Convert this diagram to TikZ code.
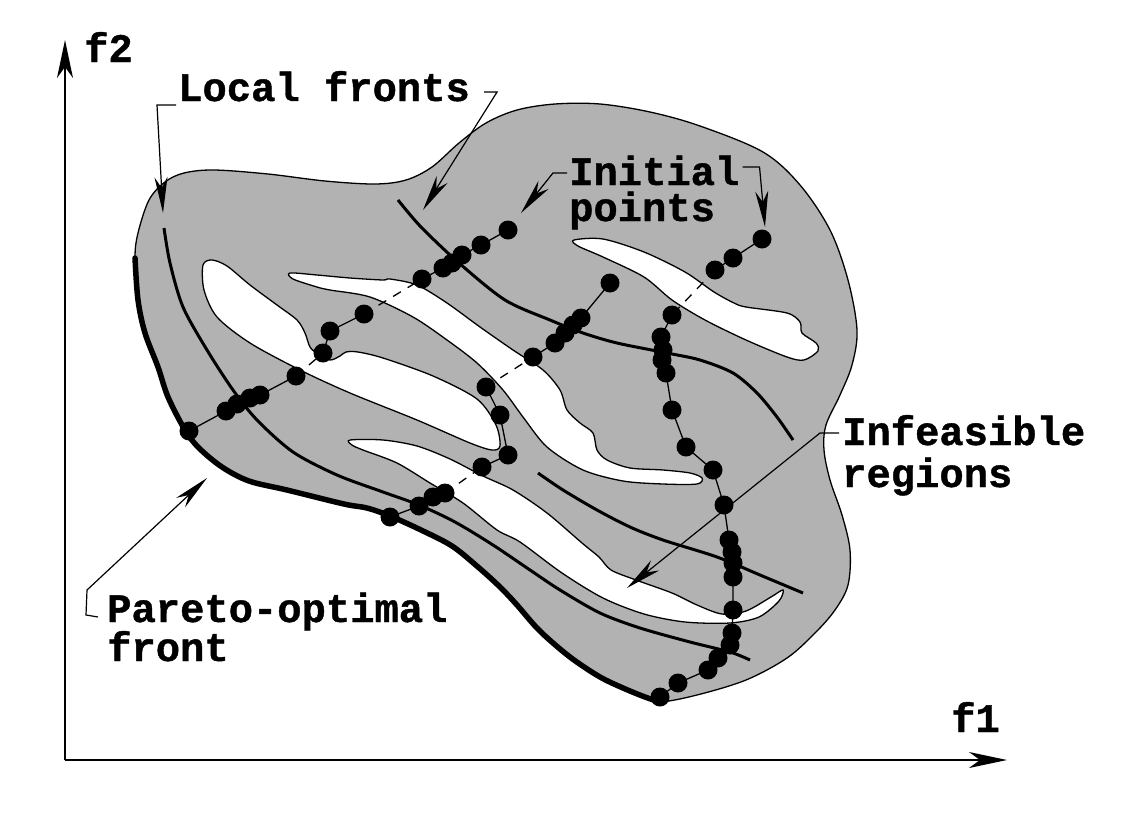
\documentclass[tikz,border=0pt]{standalone}
\usepackage{fontspec}
\setmonofont{Liberation Mono}[BoldFeatures={FakeBold=1}]
\usepackage{tikz}
\usetikzlibrary{arrows.meta}

\begin{document}
\begin{tikzpicture}[x=1pt,y=-1pt,
  lbl/.style={font=\ttfamily\bfseries\fontsize{40.5}{40}\selectfont,inner sep=0pt,anchor=base west},
  lead/.style={line width=1.2pt,-{Stealth[length=36pt,width=13pt,inset=11pt]}},
  axis/.style={line width=1.5pt,-{Stealth[length=38pt,width=16pt,inset=11pt]}},
  front/.style={line width=3pt},
  hole/.style={fill=white,draw=black,line width=1.3pt},
  link/.style={line width=1.3pt},
  gap/.style={line width=1.3pt,dash pattern=on 9pt off 8pt},
  ball/.style={fill=black}]
\useasboundingbox (0,0) rectangle (1144,820);

% feasible region
\filldraw[fill=black!30,line width=1.3pt] plot[smooth cycle,tension=0.55] coordinates {
  (660,702) (645,697) (623,688) (600,677) (574,660) (553,643) (536,627) (517,605)
  (500,587) (478,567) (452,546) (421,530) (390,516) (367,508) (344,504) (287,490)
  (249,481) (222,467) (199,448) (185,430) (168,397) (158,367) (145,333) (138,300)
  (135,258) (138,233) (149,200) (165,182) (184,173) (214,170) (268,174) (325,181)
  (375,184) (406,180) (432,167) (459,143) (486,123) (517,110) (555,104) (600,104)
  (650,112) (700,126) (763,152) (800,185) (830,230) (848,280) (857,330) (852,365)
  (840,395) (826,425) (824,450) (830,480) (842,515) (850,550) (848,585) (835,610)
  (815,633) (787,658) (746,680) (697,695)};

% infeasible holes
\path[hole] plot[smooth cycle,tension=0.5] coordinates {
  (203,265) (212,260) (227,266) (250,285) (277,305) (297,320) (305,333) (310,347)
  (318,354) (330,360) (340,356) (346,352) (358,352) (383,358) (433,376) (477,399)
  (496,425) (500,446) (492,450) (470,443) (417,420) (350,393) (300,370) (250,343)
  (217,317) (204,290)};
\path[hole] plot[smooth cycle,tension=0.5] coordinates {
  (290,273) (317,275) (350,278) (383,280) (390,279) (417,285) (447,303) (480,327)
  (513,350) (543,370) (560,390) (567,410) (580,423) (593,433) (597,450) (607,460)
  (630,468) (663,470) (690,473) (702,478) (697,484) (663,484) (623,481) (583,470)
  (547,447) (523,417) (503,390) (477,363) (447,340) (413,317) (370,297) (330,290)
  (317,287) (293,279)};
\path[hole] plot[smooth cycle,tension=0.5] coordinates {
  (574,240) (603,239) (644,252) (685,272) (714,292) (734,303) (746,307) (787,313)
  (800,322) (802,333) (816,343) (818,351) (804,360) (787,357) (746,340) (705,320)
  (672,300) (644,277) (603,257) (578,246)};
\path[hole] plot[smooth cycle,tension=0.5] coordinates {
  (350,440) (383,440) (417,446) (450,459) (483,476) (513,490) (547,513) (582,543)
  (599,557) (611,570) (636,580) (672,593) (697,605) (722,614) (746,611) (771,597)
  (783,590) (779,601) (759,617) (730,623) (685,622) (644,614) (603,598) (562,573)
  (520,542) (497,530) (463,503) (430,483) (397,463) (363,450) (352,445)};

% pareto-optimal front and local fronts
\draw[line width=5.5pt,line cap=round] plot[smooth,tension=0.55] coordinates {
  (135,258) (138,300) (145,333) (158,367) (168,397) (185,430) (199,448) (222,467)
  (249,481) (287,490) (344,504) (367,508) (390,516) (421,530) (452,546) (478,567)
  (500,587) (517,605) (536,627) (553,643) (574,660) (600,677) (623,688) (645,697)
  (660,702)};
\draw[front] plot[smooth,tension=0.5] coordinates {
  (164,228) (170,263) (183,307) (207,350) (233,390) (257,420) (293,452) (337,475)
  (383,492) (419,505) (455,522) (493,545) (530,570) (560,590) (600,613) (640,628)
  (690,642) (730,652) (750,660)};
\draw[front] plot[smooth,tension=0.5] coordinates {
  (398,200) (421,227) (459,263) (505,300) (550,320) (583,333) (617,343) (667,353)
  (700,360) (733,373) (757,393) (777,417) (793,440)};
\draw[front] plot[smooth,tension=0.5] coordinates {
  (538,473) (563,490) (597,510) (630,527) (663,540) (717,557) (760,575) (803,593)};

% search paths
\draw[link] (189,431) -- (226,411) -- (237,404) -- (250,398) -- (260,395) -- (296,376);
\draw[gap] (296,376) -- (323,353);
\draw[link] (323,353) -- (330,331) -- (364,314);
\draw[gap] (364,314) -- (422,279);
\draw[link] (422,279) -- (443,268) -- (452,263) -- (462,255) -- (481,245) -- (508,230);
\foreach \p in {(189,431),(226,411),(237,404),(250,398),(260,395),(296,376),(323,353),
  (330,331),(364,314),(422,279),(443,268),(452,263),(462,255),(481,245),(508,230)}
  \fill[ball] \p circle (9.5pt);

\draw[link] (390,517) -- (419,506) -- (433,497) -- (445,493);
\draw[gap] (445,493) -- (482,467);
\draw[link] (482,467) -- (508,455) -- (500,415) -- (486,387);
\draw[gap] (486,387) -- (533,357);
\draw[link] (533,357) -- (555,343) -- (565,333) -- (573,325) -- (581,318) -- (610,283);
\foreach \p in {(390,517),(419,506),(433,497),(445,493),(482,467),(508,455),(500,415),
  (486,387),(533,357),(555,343),(565,333),(573,325),(581,318),(610,283)}
  \fill[ball] \p circle (9.5pt);

\draw[link] (762,239) -- (733,258) -- (715,270);
\draw[gap] (715,270) -- (672,315);
\draw[link] (672,315) -- (661,337) -- (663,350) -- (662,360) -- (666,373) -- (672,410)
  -- (686,447) -- (713,470) -- (724,505) -- (729,540) -- (732,552) -- (733,563)
  -- (733,577) -- (733,610) -- (732,633) -- (730,645) -- (718,658) -- (708,670)
  -- (678,683) -- (660,697);
\foreach \p in {(762,239),(733,258),(715,270),(672,315),(661,337),(663,350),(662,360),
  (666,373),(672,410),(686,447),(713,470),(724,505),(729,540),(732,552),(733,563),
  (733,577),(733,610),(732,633),(730,645),(718,658),(708,670),(678,683),(660,697)}
  \fill[ball] \p circle (9.5pt);

% axes
\coordinate (origin) at (65,760);
\draw[axis] (origin) -- (65,40);
\draw[axis] (origin) -- (1007,760);
\node[lbl] (f2) at (84,62) {f2};
\node[lbl] (f1) at (951,732) {f1};

% labels
\node[lbl] (local) at (178,101) {Local fronts};
\node[lbl] (init) at (569,185) {Initial};
\node[lbl] (initb) at (569,221) {points};
\node[lbl] (infeas) at (842,445) {Infeasible};
\node[lbl] (infeasb) at (842,487) {regions};
\node[lbl] (pareto) at (107,622) {Pareto-optimal};
\node[lbl] (paretob) at (107,661) {front};

\coordinate (lfa) at (163,213);
\coordinate (lfb) at (423,210);
\coordinate (ipa) at (521,213);
\coordinate (ipb) at (765,227);
\coordinate (ifr) at (627,588);
\coordinate (pof) at (207,478);
\draw[lead] ([shift={(-2,4)}]local.base west) -- ++(-19,0) -- (lfa);
\draw[lead] ([shift={(14,-9)}]local.base east) -- ++(13,0) -- (lfb);
\draw[lead] ([shift={(-2,-12)}]init.base west) -- ++(-14,0) -- (ipa);
\draw[lead] ([shift={(3,-18)}]init.base east) -- ++(17,0) -- (ipb);
\draw[lead] ([shift={(-3,-12)}]infeas.base west) -- ++(-19,0) -- (ifr);
\draw[lead] ([shift={(-9,-5)}]pareto.base west) -- ++(-12,-2) -- ++(1,-25) -- (pof);
\end{tikzpicture}
\end{document}
